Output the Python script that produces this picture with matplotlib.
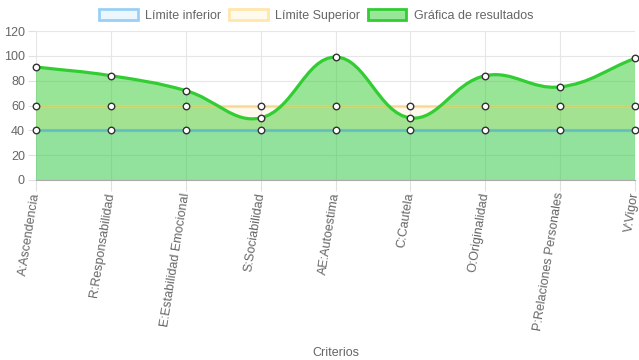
import numpy as np
import matplotlib.pyplot as plt
from matplotlib.path import Path
from matplotlib.patches import PathPatch, Patch

plt.rcParams['font.family'] = ['Liberation Sans', 'DejaVu Sans']

# 資料
criterios = ["A:Ascendencia", "R:Responsabilidad", "E:Estabilidad Emocional",
             "S:Sociabilidad", "AE:Autoestima", "C:Cautela", "O:Originalidad",
             "P:Relaciones Personales", "V:Vigor"]
limite_inferior = [40, 40, 40, 40, 40, 40, 40, 40, 40]
limite_superior = [60, 60, 60, 60, 60, 60, 60, 60, 60]
resultados = [91, 84, 72, 50, 99, 50, 84, 75, 98]
y_ticks = [0, 20, 40, 60, 80, 100, 120]

azul = (54 / 255, 162 / 255, 235 / 255)
amarillo = (255 / 255, 205 / 255, 86 / 255)
verde = "#32cd32"
gris = "#666666"


def curva(xs, ys, sx=75.0, sy=1.24, t=0.4):
    # curva bezier tipo Chart.js (tension 0.4)
    n = len(xs)
    px = np.array(xs, float) * sx
    py = np.array(ys, float) * sy
    cps = []
    for i in range(n):
        a = max(i - 1, 0)
        b = min(i + 1, n - 1)
        d01 = np.hypot(px[i] - px[a], py[i] - py[a])
        d12 = np.hypot(px[b] - px[i], py[b] - py[i])
        tot = d01 + d12 if d01 + d12 > 0 else 1
        fa = t * d01 / tot
        fb = t * d12 / tot
        prev = (px[i] - fa * (px[b] - px[a]), py[i] - fa * (py[b] - py[a]))
        nxt = (px[i] + fb * (px[b] - px[a]), py[i] + fb * (py[b] - py[a]))
        cps.append((prev, nxt))
    verts = [(px[0] / sx, py[0] / sy)]
    codes = [Path.MOVETO]
    for i in range(1, n):
        c1 = cps[i - 1][1]
        c2 = cps[i][0]
        verts += [(c1[0] / sx, c1[1] / sy), (c2[0] / sx, c2[1] / sy), (px[i] / sx, py[i] / sy)]
        codes += [Path.CURVE4] * 3
    return verts, codes


x = np.arange(len(criterios))

fig = plt.figure(figsize=(6.39, 3.6), dpi=100)
ax = fig.add_axes([36 / 639, 0.5, 599 / 639, 149 / 360])

verts, codes = curva(x, resultados)
# relleno hasta 0
fill_verts = verts + [(x[-1], 0), (x[0], 0), verts[0]]
fill_codes = codes + [Path.LINETO, Path.LINETO, Path.CLOSEPOLY]
ax.add_patch(PathPatch(Path(fill_verts, fill_codes), facecolor=verde, alpha=0.5,
                       edgecolor="none", zorder=2))
ax.fill_between(x, limite_inferior, limite_superior, color=amarillo, alpha=0.1, lw=0, zorder=2.1)
ax.fill_between(x, 0, limite_inferior, color=azul, alpha=0.06, lw=0, zorder=2.2)
ax.add_patch(PathPatch(Path(verts, codes), facecolor="none", edgecolor=verde,
                       lw=2.3, zorder=4))

ax.plot(x, limite_inferior, color=azul, alpha=0.45, lw=2.3, zorder=3)
ax.plot(x, limite_superior, color=amarillo, alpha=0.5, lw=2.3, zorder=3)
for serie in [limite_inferior, limite_superior, resultados]:
    ax.scatter(x, serie, s=22, facecolor="white", edgecolor="#333333",
               linewidth=1.0, zorder=5, clip_on=False)

ax.set_xlim(0, len(criterios) - 1)
ax.set_ylim(0, 120)
ax.set_yticks(y_ticks)
ax.set_xticks(x)
ax.set_xticklabels(criterios, rotation=81, ha="right", va="center",
                   rotation_mode="anchor", fontsize=9, color=gris)
ax.tick_params(axis="y", labelsize=9, labelcolor=gris, length=6, color="#e0e0e0", pad=2)
ax.tick_params(axis="x", length=8, color="#e0e0e0", pad=1)
ax.grid(True, color="#e6e6e6", lw=0.8, zorder=0)
for s in ["top", "right", "left"]:
    ax.spines[s].set_visible(False)
ax.spines["bottom"].set_color("#aaaaaa")
ax.set_xlabel("Criterios", fontsize=9, color=gris)
ax.xaxis.set_label_coords(0.5, -1.12)

handles = [
    Patch(facecolor="#ebf6fd", edgecolor="#9ad0f5", lw=2),
    Patch(facecolor="#fffaee", edgecolor="#ffe6aa", lw=2),
    Patch(facecolor="#98e698", edgecolor=verde, lw=2),
]
fig.legend(handles, ["Límite inferior", "Límite Superior", "Gráfica de resultados"],
           loc="center", bbox_to_anchor=(0.495, 0.958), ncol=3, frameon=False,
           fontsize=9, handlelength=3.1, handleheight=1.0, columnspacing=0.6,
           handletextpad=0.6, labelcolor=gris)

plt.savefig("out.png", dpi=100)
